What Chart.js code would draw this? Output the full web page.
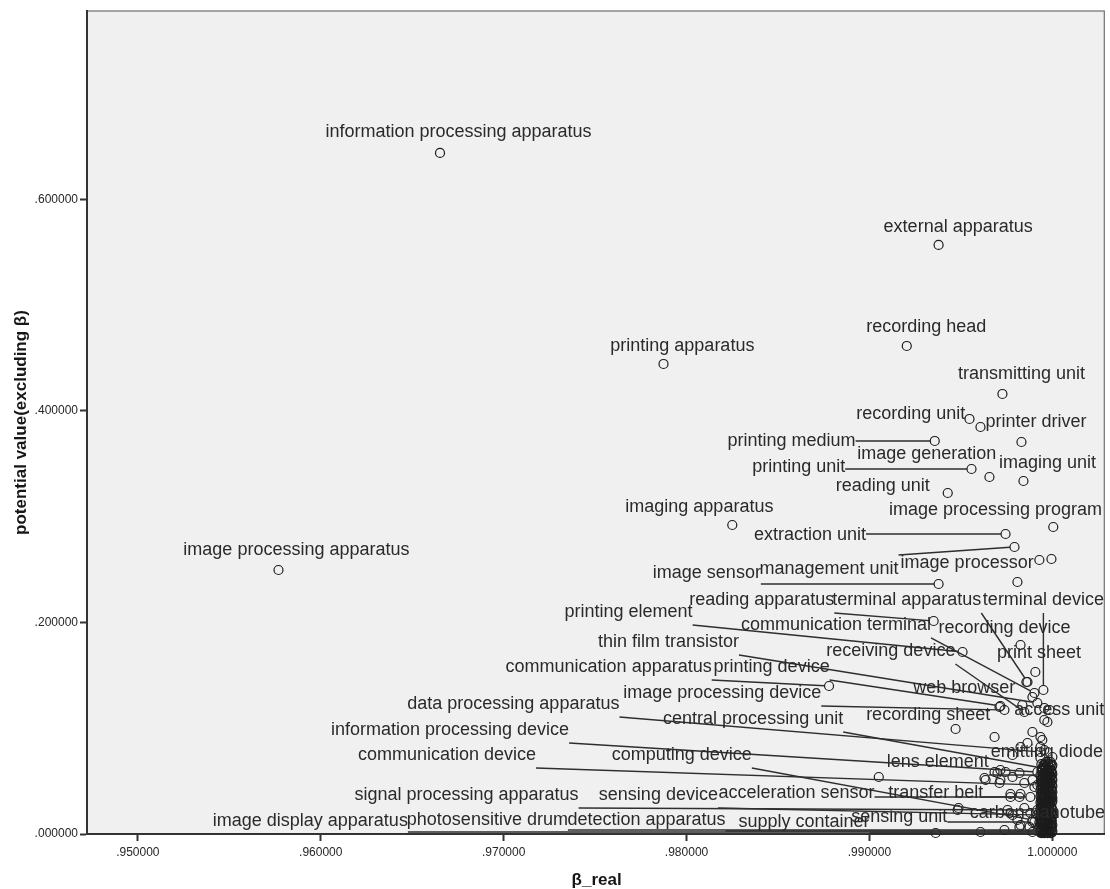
<!DOCTYPE html>
<html>
<head>
<meta charset="utf-8">
<script src="https://cdn.jsdelivr.net/npm/chart.js@4/dist/chart.umd.min.js"></script>
<style>
  html, body { margin: 0; padding: 0; background: #ffffff; }
  #wrap { width: 1110px; height: 889px; }
</style>
</head>
<body>
<div id="wrap"><canvas id="chart" width="1110" height="889"></canvas></div>
<script>
// Labelled terms: β_real vs potential value (excluding β)
const termNames = [
  "information processing apparatus", "external apparatus", "recording head", "printing apparatus",
  "transmitting unit", "recording unit", "printer driver", "printing medium", "image generation",
  "imaging unit", "printing unit", "reading unit", "imaging apparatus", "image processing program",
  "extraction unit", "image processing apparatus", "management unit", "image processor", "image sensor",
  "reading apparatus", "terminal apparatus", "terminal device", "printing element", "communication terminal",
  "recording device", "thin film transistor", "receiving device", "print sheet", "communication apparatus",
  "printing device", "image processing device", "web browser", "data processing apparatus", "access unit",
  "central processing unit", "recording sheet", "information processing device", "emitting diode",
  "communication device", "computing device", "lens element", "signal processing apparatus", "sensing device",
  "acceleration sensor", "transfer belt", "carbon nanotube", "sensing unit", "image display apparatus",
  "photosensitive drum", "detection apparatus", "supply container"
];
const betaReal = [
  0.96652, 0.99378, 0.99204, 0.97874, 0.99727, 0.99547, 0.99831, 0.99357, 0.99656,
  0.99842, 0.99558, 0.99428, 0.98250, 1.00005, 0.99744, 0.95769, 0.99793, 0.99929, 0.99378,
  0.99351, 0.99864, 0.99951, 0.99509, 0.99902, 0.99826, 0.99918, 0.99847, 0.99907, 0.98779,
  0.99716, 0.99738, 0.99891, 0.99935, 0.99956, 0.99945, 0.99471, 0.99918, 0.99973,
  0.99918, 0.99891, 0.99935, 0.99918, 0.99918, 0.99880, 0.99820, 0.99826, 0.99891, 0.99945,
  0.99956, 0.99935, 0.99945
];
const potentialValue = [
  0.64379, 0.55682, 0.46134, 0.44432, 0.41596, 0.39233, 0.37058, 0.37153, 0.33749,
  0.33371, 0.34506, 0.32237, 0.29212, 0.29023, 0.28361, 0.24958, 0.27132, 0.25903, 0.23634,
  0.20136, 0.14370, 0.13613, 0.17206, 0.13330, 0.17867, 0.12384, 0.11533, 0.15315, 0.13991,
  0.12101, 0.11723, 0.12951, 0.07752, 0.10777, 0.06239, 0.09926, 0.05861, 0.06050,
  0.04632, 0.01324, 0.05578, 0.02269, 0.01796, 0.03498, 0.03498, 0.00851, 0.01134, 0.00189,
  0.00378, 0.00284, 0.00095
];
// where each term's text sits (centre of the text, in axis units)
const labelBeta = [
  0.96753, 0.99485, 0.99311, 0.97977, 0.99831, 0.99226, 0.99910, 0.98574, 0.99313,
  0.99973, 0.98613, 0.99073, 0.98070, 0.99689, 0.98675, 0.95867, 0.98779, 0.99534, 0.98111,
  0.98411, 0.99204, 0.99951, 0.97683, 0.98817, 0.99738, 0.97901, 0.99117, 0.99927, 0.97574,
  0.98465, 0.98195, 0.99518, 0.97053, 1.00038, 0.98364, 0.99321, 0.96707, 0.99970,
  0.96690, 0.97974, 0.99373, 0.96797, 0.97846, 0.98601, 0.99362, 0.99918, 0.99163, 0.95943,
  0.96911, 0.97781, 0.98642
];
const labelPotential = [
  0.66365, 0.57383, 0.47930, 0.46134, 0.43487, 0.39706, 0.38949, 0.37153, 0.35924,
  0.35073, 0.34695, 0.32898, 0.30913, 0.30630, 0.28266, 0.26848, 0.25052, 0.25619, 0.24674,
  0.22121, 0.22121, 0.22121, 0.20987, 0.19758, 0.19475, 0.18151, 0.17300, 0.17111, 0.15788,
  0.15788, 0.13330, 0.13802, 0.12290, 0.11723, 0.10872, 0.11250, 0.09832, 0.07752,
  0.07468, 0.07468, 0.06807, 0.03687, 0.03687, 0.03876, 0.03876, 0.01985, 0.01607, 0.01229,
  0.01324, 0.01324, 0.01134
];
// 1 = text joined to its point by a leader line
const hasLeader = [
  0, 0, 0, 0, 0, 0, 0, 1, 0,
  0, 1, 0, 0, 0, 1, 0, 1, 0, 1,
  1, 1, 1, 1, 1, 0, 1, 1, 0, 1,
  1, 1, 0, 1, 0, 1, 0, 1, 0,
  1, 1, 1, 1, 1, 1, 1, 0, 1, 1,
  1, 1, 1
];

// Unlabelled terms near the right-hand edge: [β_real, potential value]
const otherTerms = [
  [0.99607, 0.38476], [0.99995, 0.25997], [0.99809, 0.23823], [0.99858, 0.14370], [0.99836, 0.12195],
  [0.99711, 0.12006], [0.99956, 0.11912], [0.99984, 0.11723], [0.99973, 0.10588], [0.99891, 0.09643],
  [0.99935, 0.09170], [0.99945, 0.08886], [0.99864, 0.08603], [0.99826, 0.08225], [0.99935, 0.08225],
  [0.99782, 0.07468], [0.99956, 0.07941], [1.00000, 0.07279], [0.99935, 0.07185], [0.99629, 0.05294],
  [0.99700, 0.05767], [0.99744, 0.05861], [0.99782, 0.05389], [0.99820, 0.05767], [0.99711, 0.04821],
  [0.99847, 0.04821], [0.99891, 0.05105], [0.99902, 0.04443], [0.99771, 0.03781], [0.99826, 0.03781],
  [0.99847, 0.02458], [0.99755, 0.02269], [0.99782, 0.01796], [0.99809, 0.01324], [0.99875, 0.00662],
  [0.99902, 0.01134], [0.99891, 0.00189], [0.99738, 0.00378], [0.99607, 0.00189], [0.99482, 0.02269],
  [0.99362, 0.00095], [0.99684, 0.05861], [0.99716, 0.05105], [0.99771, 0.03498], [0.99487, 0.02458],
  [0.99880, 0.01985], [0.99820, 0.00662], [0.99051, 0.05389], [0.99716, 0.06050], [0.99635, 0.05105],
  [0.99684, 0.09170]
];

// Dense group of terms with β_real close to 1 and small potential value
const denseTerms = [
  [0.99967, 0.0681], [0.99989, 0.0681],
  [0.99951, 0.0652], [0.99978, 0.0652], [1.00000, 0.0652],
  [0.99962, 0.0624], [0.99989, 0.0624],
  [0.99945, 0.0596], [0.99973, 0.0596], [0.99995, 0.0596],
  [0.99956, 0.0567], [0.99984, 0.0567], [1.00000, 0.0567],
  [0.99951, 0.0539], [0.99967, 0.0539], [0.99989, 0.0539],
  [0.99940, 0.0510], [0.99962, 0.0510], [0.99978, 0.0510], [1.00000, 0.0510],
  [0.99951, 0.0482], [0.99973, 0.0482], [0.99989, 0.0482],
  [0.99945, 0.0454], [0.99962, 0.0454], [0.99984, 0.0454], [1.00000, 0.0454],
  [0.99956, 0.0425], [0.99973, 0.0425], [0.99995, 0.0425],
  [0.99945, 0.0397], [0.99967, 0.0397], [0.99984, 0.0397], [1.00000, 0.0397],
  [0.99951, 0.0369], [0.99962, 0.0369], [0.99978, 0.0369], [0.99995, 0.0369],
  [0.99940, 0.0340], [0.99956, 0.0340], [0.99973, 0.0340], [0.99989, 0.0340], [1.00000, 0.0340],
  [0.99951, 0.0312], [0.99967, 0.0312], [0.99984, 0.0312], [1.00000, 0.0312],
  [0.99940, 0.0284], [0.99956, 0.0284], [0.99973, 0.0284], [0.99989, 0.0284],
  [0.99945, 0.0255], [0.99962, 0.0255], [0.99978, 0.0255], [0.99995, 0.0255],
  [0.99935, 0.0227], [0.99951, 0.0227], [0.99967, 0.0227], [0.99984, 0.0227], [1.00000, 0.0227],
  [0.99945, 0.0199], [0.99962, 0.0199], [0.99978, 0.0199], [0.99995, 0.0199],
  [0.99935, 0.0170], [0.99951, 0.0170], [0.99967, 0.0170], [0.99984, 0.0170], [1.00000, 0.0170],
  [0.99940, 0.0142], [0.99956, 0.0142], [0.99973, 0.0142], [0.99989, 0.0142],
  [0.99929, 0.0113], [0.99945, 0.0113], [0.99962, 0.0113], [0.99978, 0.0113], [0.99995, 0.0113],
  [0.99940, 0.0085], [0.99956, 0.0085], [0.99973, 0.0085], [0.99989, 0.0085], [1.00000, 0.0085],
  [0.99929, 0.0057], [0.99945, 0.0057], [0.99962, 0.0057], [0.99978, 0.0057], [0.99995, 0.0057],
  [0.99935, 0.0028], [0.99951, 0.0028], [0.99967, 0.0028], [0.99984, 0.0028], [1.00000, 0.0028],
  [0.99940, 0.0009], [0.99956, 0.0009], [0.99973, 0.0009], [0.99989, 0.0009],
  [0.99964, 0.0638], [0.99997, 0.0638],
  [0.99948, 0.0610], [0.99981, 0.0610],
  [0.99964, 0.0581], [0.99997, 0.0581],
  [0.99948, 0.0553], [0.99981, 0.0553],
  [0.99964, 0.0525], [0.99997, 0.0525],
  [0.99948, 0.0496], [0.99981, 0.0496],
  [0.99935, 0.0468], [0.99964, 0.0468], [0.99997, 0.0468],
  [0.99948, 0.0440], [0.99981, 0.0440],
  [0.99935, 0.0411], [0.99964, 0.0411], [0.99997, 0.0411],
  [0.99948, 0.0383], [0.99981, 0.0383],
  [0.99935, 0.0355], [0.99964, 0.0355], [0.99997, 0.0355],
  [0.99948, 0.0326], [0.99981, 0.0326],
  [0.99935, 0.0298], [0.99964, 0.0298], [0.99997, 0.0298],
  [0.99948, 0.0269], [0.99981, 0.0269],
  [0.99935, 0.0241], [0.99964, 0.0241], [0.99997, 0.0241],
  [0.99948, 0.0213], [0.99981, 0.0213],
  [0.99935, 0.0184], [0.99964, 0.0184], [0.99997, 0.0184],
  [0.99948, 0.0156], [0.99981, 0.0156],
  [0.99935, 0.0128], [0.99964, 0.0128], [0.99997, 0.0128],
  [0.99948, 0.0099], [0.99981, 0.0099],
  [0.99935, 0.0071], [0.99964, 0.0071], [0.99997, 0.0071],
  [0.99948, 0.0043], [0.99981, 0.0043],
  [0.99935, 0.0014], [0.99964, 0.0014], [0.99997, 0.0014],
  [0.99940, 0.0660], [0.99959, 0.0660], [0.99976, 0.0660], [0.99992, 0.0660],
  [0.99940, 0.0603], [0.99959, 0.0603], [0.99976, 0.0603], [0.99992, 0.0603],
  [0.99940, 0.0546], [0.99959, 0.0546], [0.99976, 0.0546], [0.99992, 0.0546],
  [0.99940, 0.0489], [0.99959, 0.0489], [0.99976, 0.0489], [0.99992, 0.0489],
  [0.99940, 0.0432], [0.99959, 0.0432], [0.99976, 0.0432], [0.99992, 0.0432],
  [0.99940, 0.0375], [0.99959, 0.0375], [0.99976, 0.0375], [0.99992, 0.0375],
  [0.99940, 0.0318], [0.99959, 0.0318], [0.99976, 0.0318], [0.99992, 0.0318],
  [0.99940, 0.0262], [0.99959, 0.0262], [0.99976, 0.0262], [0.99992, 0.0262],
  [0.99940, 0.0205], [0.99959, 0.0205], [0.99976, 0.0205], [0.99992, 0.0205],
  [0.99940, 0.0148], [0.99959, 0.0148], [0.99976, 0.0148], [0.99992, 0.0148],
  [0.99940, 0.0091], [0.99959, 0.0091], [0.99976, 0.0091], [0.99992, 0.0091],
  [0.99940, 0.0035], [0.99959, 0.0035], [0.99976, 0.0035], [0.99992, 0.0035]
];

// Axis ticks
const xTickValues = [0.95, 0.96, 0.97, 0.98, 0.99, 1.00];
const yTickValues = [0.0, 0.2, 0.4, 0.6];
const xTitle = "β_real";
const yTitle = "potential value(excluding β)";

const LABEL_FONT = '18px "Liberation Sans", Arial, sans-serif';
const TEXT_COLOR = '#2a2a2a';
const MARK_COLOR = '#1c1c1c';
const POINT_RADIUS = 4.5;

function fmtTick(v) {
  const s = Number(v).toFixed(6);
  return s.startsWith('0') ? s.slice(1) : s;
}

const allPoints = []
  .concat(denseTerms.map(p => ({ x: p[0], y: p[1] })))
  .concat(otherTerms.map(p => ({ x: p[0], y: p[1] })))
  .concat(betaReal.map((b, i) => ({ x: b, y: potentialValue[i] })));

const plotFrame = {
  id: 'plotFrame',
  beforeDraw(chart) {
    const { ctx, chartArea: a } = chart;
    ctx.save();
    ctx.fillStyle = '#f0f0f0';
    ctx.fillRect(a.left, a.top, a.right - a.left, a.bottom - a.top);
    ctx.strokeStyle = '#6e6e6e';
    ctx.lineWidth = 1.2;
    ctx.strokeRect(a.left, a.top, a.right - a.left, a.bottom - a.top);
    ctx.restore();
  },
  afterDraw(chart) {
    const { ctx, chartArea: a } = chart;
    ctx.save();
    ctx.fillStyle = '#161616';
    ctx.font = 'bold 17px "Liberation Sans", Arial, sans-serif';
    ctx.textAlign = 'center';
    ctx.textBaseline = 'middle';
    ctx.fillText(xTitle, (a.left + a.right) / 2 + 1, 880);
    ctx.translate(21, (a.top + a.bottom) / 2);
    ctx.rotate(-Math.PI / 2);
    ctx.fillText(yTitle, 0, 0);
    ctx.restore();
  }
};

const termLabels = {
  id: 'termLabels',
  afterDatasetsDraw(chart) {
    const { ctx, chartArea: a, scales: { x, y } } = chart;
    ctx.save();
    ctx.beginPath();
    ctx.rect(a.left, a.top, a.right - a.left, a.bottom - a.top);
    ctx.clip();
    ctx.font = LABEL_FONT;
    // leader lines from the nearest edge of each text box to its point
    ctx.strokeStyle = '#2e2e2e';
    ctx.lineWidth = 1.4;
    termNames.forEach((name, i) => {
      if (!hasLeader[i]) return;
      const px = x.getPixelForValue(betaReal[i]);
      const py = y.getPixelForValue(potentialValue[i]);
      const lx = x.getPixelForValue(labelBeta[i]);
      const ly = y.getPixelForValue(labelPotential[i]);
      const w = ctx.measureText(name).width;
      const bx = Math.min(Math.max(px, lx - w / 2), lx + w / 2);
      const by = Math.min(Math.max(py, ly - 14), ly + 13);
      const d = Math.hypot(px - bx, py - by);
      if (d <= POINT_RADIUS) return;
      const ex = px - (px - bx) / d * POINT_RADIUS;
      const ey = py - (py - by) / d * POINT_RADIUS;
      ctx.beginPath();
      ctx.moveTo(bx, by);
      ctx.lineTo(ex, ey);
      ctx.stroke();
    });
    // term texts
    ctx.fillStyle = TEXT_COLOR;
    ctx.textAlign = 'center';
    ctx.textBaseline = 'middle';
    termNames.forEach((name, i) => {
      const lx = x.getPixelForValue(labelBeta[i]);
      const ly = y.getPixelForValue(labelPotential[i]);
      ctx.fillText(name, lx, ly);
    });
    ctx.restore();
  }
};

new Chart(document.getElementById('chart'), {
  type: 'scatter',
  data: {
    datasets: [{
      data: allPoints,
      pointRadius: POINT_RADIUS,
      pointHoverRadius: POINT_RADIUS,
      pointBorderWidth: 1.2,
      borderColor: MARK_COLOR,
      backgroundColor: 'rgba(0,0,0,0)',
      pointBackgroundColor: 'rgba(0,0,0,0)',
      pointBorderColor: MARK_COLOR,
      clip: false
    }]
  },
  options: {
    responsive: false,
    animation: false,
    devicePixelRatio: 1,
    events: [],
    layout: { padding: { top: 11, right: 3, left: 0, bottom: 0 } },
    plugins: { legend: { display: false }, tooltip: { enabled: false } },
    scales: {
      x: {
        type: 'linear',
        min: 0.94722,
        max: 1.00284,
        afterBuildTicks: s => { s.ticks = xTickValues.map(v => ({ value: v })); },
        afterFit: s => { s.height = 55; },
        border: { display: true, color: '#333333', width: 2 },
        grid: { drawOnChartArea: false, drawTicks: true, tickLength: 7, tickColor: '#333333', tickWidth: 2 },
        ticks: {
          callback: v => fmtTick(v),
          color: '#262626',
          font: { family: '"Liberation Sans", Arial, sans-serif', size: 12 },
          padding: 4,
          maxRotation: 0,
          autoSkip: false
        }
      },
      y: {
        type: 'linear',
        min: 0,
        max: 0.778,
        afterBuildTicks: s => { s.ticks = yTickValues.map(v => ({ value: v })); },
        afterFit: s => { s.width = 87; },
        border: { display: true, color: '#333333', width: 2 },
        grid: { drawOnChartArea: false, drawTicks: true, tickLength: 7, tickColor: '#333333', tickWidth: 2 },
        ticks: {
          callback: v => fmtTick(v),
          color: '#262626',
          font: { family: '"Liberation Sans", Arial, sans-serif', size: 12 },
          padding: 2,
          autoSkip: false
        }
      }
    }
  },
  plugins: [plotFrame, termLabels]
});
</script>
</body>
</html>
